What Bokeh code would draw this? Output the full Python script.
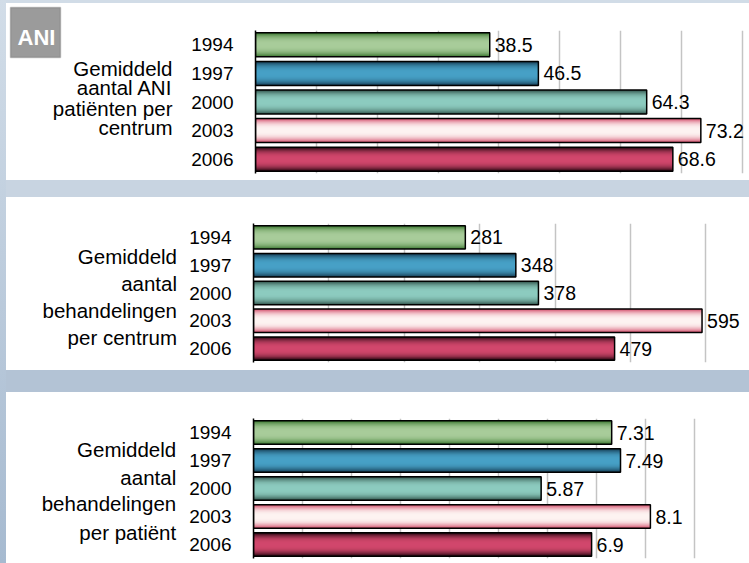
from bokeh.plotting import figure
from bokeh.models import (FactorRange, Range1d, FixedTicker, Label, BoxAnnotation,
                          ColumnDataSource, Div)
from bokeh.layouts import row, column
from bokeh.core.properties import value
from bokeh.embed import file_html
from bokeh.resources import INLINE

# ---------------- data ----------------
years = ["1994", "1997", "2000", "2003", "2006"]

patients_per_centre = [38.5, 46.5, 64.3, 73.2, 68.6]
patients_labels = ["38.5", "46.5", "64.3", "73.2", "68.6"]

treatments_per_centre = [281, 348, 378, 595, 479]
treatments_labels = ["281", "348", "378", "595", "479"]

treatments_per_patient = [7.31, 7.49, 5.87, 8.1, 6.9]
treatments_pp_labels = ["7.31", "7.49", "5.87", "8.1", "6.9"]

desc_patients = ["Gemiddeld", "aantal ANI", "patiënten per", "centrum"]
desc_treatments = ["Gemiddeld", "aantal", "behandelingen", "per centrum"]
desc_per_patient = ["Gemiddeld", "aantal", "behandelingen", "per patiënt"]

ticks_patients = [0, 10, 20, 30, 40, 50, 60, 70, 80]
ticks_treatments = [0, 100, 200, 300, 400, 500, 600]
ticks_per_patient = [0, 1, 2, 3, 4, 5, 6, 7, 8, 9, 10]

badge_text = "ANI"

# bar gradient colours (edge -> centre) per year
edge_colors = ["#3e7a33", "#173f56", "#35574f", "#d4526e", "#2a0812"]
center_colors = ["#a8cc9a", "#47a0c6", "#8ccbbf", "#fdf3f1", "#d1476c"]

FONT = "Liberation Sans"
BAR_H = 0.84
FIG_W = 743
DESC_W = 180


def mix(c1, c2, t):
    a = [int(c1[i:i + 2], 16) for i in (1, 3, 5)]
    b = [int(c2[i:i + 2], 16) for i in (1, 3, 5)]
    return "#%02x%02x%02x" % tuple(int(round(x + (y - x) * t)) for x, y in zip(a, b))


def make_desc(height, lines, right_x, baselines):
    d = figure(width=DESC_W, height=height, output_backend="svg", toolbar_location=None,
               x_range=Range1d(0, DESC_W), y_range=Range1d(height, 0),
               min_border=0, min_border_left=0, min_border_right=0,
               min_border_top=0, min_border_bottom=0, frame_align=False)
    d.axis.visible = False
    d.grid.visible = False
    d.outline_line_color = None
    d.background_fill_color = "white"
    d.border_fill_color = "white"
    for txt, yy in zip(lines, baselines):
        d.add_layout(Label(x=right_x, y=yy, text=txt, text_align="right",
                           text_baseline="alphabetic", text_font=FONT,
                           text_font_size="20.5px", text_color="black"))
    return d


def make_panel(values, labels, xmax, ticks, height, b_left, b_right, b_top, b_bottom):
    p = figure(width=FIG_W - DESC_W, height=height, output_backend="svg",
               toolbar_location=None, frame_align=False,
               y_range=FactorRange(factors=years[::-1]), x_range=Range1d(0, xmax),
               min_border_left=b_left, min_border_right=b_right,
               min_border_top=b_top, min_border_bottom=b_bottom)
    p.background_fill_color = "white"
    p.border_fill_color = "white"
    p.outline_line_color = None
    p.xaxis.visible = False
    p.xaxis.ticker = FixedTicker(ticks=ticks)
    p.xgrid.ticker = FixedTicker(ticks=ticks)
    p.xgrid.grid_line_color = "#c4c4c4"
    p.xgrid.grid_line_width = 1.5
    p.ygrid.grid_line_color = None
    ax = p.yaxis[0]
    ax.axis_line_color = "black"
    ax.axis_line_width = 1.5
    ax.major_tick_line_color = None
    ax.minor_tick_line_color = None
    ax.major_label_text_font = FONT
    ax.major_label_text_font_size = "19px"
    ax.major_label_text_color = "black"
    ax.major_label_standoff = 16

    n = 12
    for k in range(n):
        t = k / (n - 1)
        e = 1 - (1 - t) ** 2.5
        src = ColumnDataSource(dict(y=years, right=values,
                                    color=[mix(edge_colors[i], center_colors[i], e)
                                           for i in range(len(years))]))
        p.hbar(y="y", right="right", left=0, height=BAR_H * (1 - k / n),
               fill_color="color", line_color=None, source=src)
    src = ColumnDataSource(dict(y=years, right=values, label=labels))
    p.hbar(y="y", right="right", left=0, height=BAR_H, fill_color=None,
           line_color="black", line_width=1.5, source=src)
    p.text(x="right", y="y", text="label", source=src, x_offset=5,
           text_baseline="middle", text_align="left",
           text_font=value(FONT), text_font_size="19.5px", text_color="black")
    return p


d1 = make_desc(177, desc_patients, 166, [65.3, 84.3, 105.0, 123.7])
d1.add_layout(BoxAnnotation(left=4, right=54, top=4, bottom=54,
                            fill_color="#9b9b9b", fill_alpha=1.0,
                            line_color="#555555", line_width=1.5))
d1.add_layout(Label(x=11, y=34, text=badge_text, text_font=FONT,
                    text_font_style="bold", text_font_size="22px",
                    text_color="white", text_baseline="alphabetic"))
p1 = make_panel(patients_per_centre, patients_labels, 81.2, ticks_patients,
                177, 69, 0, 27, 7)

d2 = make_desc(173, desc_treatments, 170.5, [59.0, 85.7, 113.0, 139.7])
p2 = make_panel(treatments_per_centre, treatments_labels, 650, ticks_treatments,
                173, 67, 6, 26, 8)

d3 = make_desc(171, desc_per_patient, 169.7, [57.3, 84.7, 111.3, 139.7])
p3 = make_panel(treatments_per_patient, treatments_pp_labels, 10, ticks_per_patient,
                171, 67, 6, 26, 5)


def band(w, h, bg):
    return Div(text="", width=w, height=h, margin=0, styles={"background": bg})


left_strip = band(6, 563, "linear-gradient(#d2dde8, #a6bad0)")
stack = column(band(FIG_W, 3, "#d1dce7"),
               row(d1, p1, spacing=0), band(FIG_W, 17, "#c8d4e1"),
               row(d2, p2, spacing=0), band(FIG_W, 22, "#b3c3d5"),
               row(d3, p3, spacing=0), spacing=0)
layout = row(left_strip, stack, spacing=0)

open("out.html", "w").write(file_html(layout, INLINE))
